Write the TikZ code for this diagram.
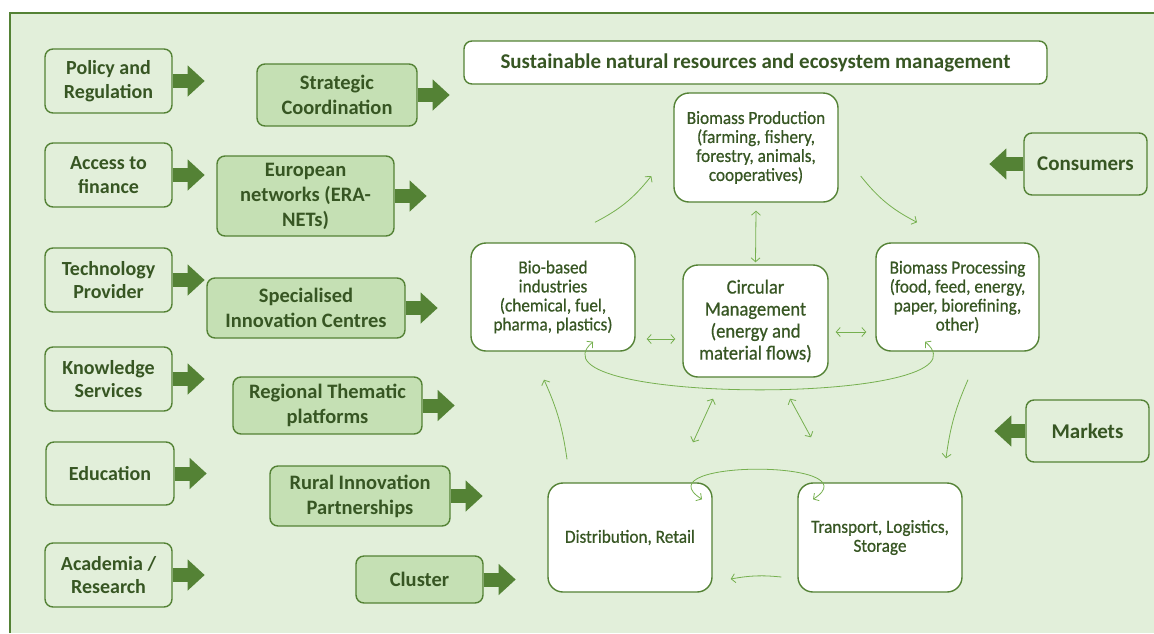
\documentclass[tikz,border=0pt]{standalone}
\usepackage{fontspec}
\setmainfont{Carlito}
\newfontfamily\cycfont[FakeBold=0.6,FakeStretch=0.93]{Carlito}
\usetikzlibrary{calc}
\usetikzlibrary{arrows.meta}
\definecolor{bgGreen}{HTML}{E2EFDA}
\definecolor{lineGreen}{HTML}{548235}
\definecolor{midGreen}{HTML}{C5E0B4}
\definecolor{textGreen}{HTML}{375623}
\definecolor{flowGreen}{HTML}{76B04F}

\begin{document}
\begin{tikzpicture}[x=1pt,y=-1pt,
    >={Straight Barb[length=4pt,width=9pt]},
    actor/.style={draw=lineGreen,line width=1.4pt,rounded corners=8pt,fill=bgGreen,
        text=textGreen,align=center,inner sep=2pt,
        font=\bfseries\fontsize{20}{23.5}\selectfont,
        minimum width=127pt,minimum height=64pt},
    tool/.style={actor,fill=midGreen,font=\bfseries\fontsize{20.5}{25}\selectfont},
    cyc/.style={draw=lineGreen,line width=1.4pt,rounded corners=15pt,fill=white,
        text=textGreen,align=center,inner sep=2pt,
        font=\cycfont\fontsize{18.5}{19}\selectfont,
        minimum width=164pt,minimum height=109pt},
    blk/.style={draw=lineGreen,line width=14pt,-{Triangle[length=17pt,width=30pt]}},
    flow/.style={draw=flowGreen,line width=0.8pt}]
    \useasboundingbox (0,0) rectangle (1154,633);
    % background
    \fill[bgGreen] (10,13) rectangle (1154,633);
    \draw[lineGreen,line width=2pt] (10,633) -- (10,13) -- (1154,13);

    % actors
    \node[actor] (pol) at (108.5,81) {Policy and\\Regulation};
    \node[actor] (acc) at (108.5,175) {Access to\\finance};
    \node[actor] (tec) at (108.5,280) {Technology\\Provider};
    \node[actor] (kno) at (108.5,379) {Knowledge\\Services};
    \node[actor,minimum width=128pt,minimum height=63pt] (edu) at (110,473.5) {Education};
    \node[actor] (aca) at (108.5,575) {Academia /\\Research};

    % instruments
    \node[tool,minimum width=160pt,minimum height=62pt] (str) at (337,95) {Strategic\\Coordination};
    \node[tool,minimum width=177pt,minimum height=80pt] (eur) at (305.5,196) {European\\networks (ERA-\\NETs)};
    \node[tool,minimum width=198pt,minimum height=60pt] (spe) at (306,308) {Specialised\\Innovation Centres};
    \node[tool,minimum width=189pt,minimum height=57pt] (reg) at (327.5,405.5) {Regional Thematic\\platforms};
    \node[tool,minimum width=180pt,minimum height=60pt] (rur) at (360,496) {Rural Innovation\\Partnerships};
    \node[tool,minimum width=127pt,minimum height=47pt] (clu) at (419.5,579.5) {Cluster};

    \foreach \n in {pol,acc,tec,kno,edu,aca,str,eur,spe,reg,rur,clu}
        \draw[blk] (\n.east) -- ++(32,0);

    % right side
    \node[cyc,rounded corners=8pt,minimum width=583pt,minimum height=43pt,
        font=\bfseries\fontsize{21}{24}\selectfont] (sus) at (755.5,62.5)
        {Sustainable natural resources and ecosystem management};
    \node[actor,minimum width=123pt,minimum height=62pt,font=\bfseries\fontsize{21}{25}\selectfont] (con) at (1085.5,164) {Consumers};
    \node[actor,minimum width=123pt,minimum height=62pt,font=\bfseries\fontsize{21}{25}\selectfont] (mar) at (1087.5,431) {Markets};
    \draw[blk] (con.west) -- ++(-34,0);
    \draw[blk] (mar.west) -- ++(-31,0);

    % cycle
    \node[cyc] (prod) at (756,147.5) {Biomass Production\\(farming, fishery,\\forestry, animals,\\cooperatives)};
    \node[cyc,minimum height=108pt] (bio) at (553,297) {Bio-based\\industries\\(chemical, fuel,\\pharma, plastics)};
    \node[cyc,minimum width=145pt,minimum height=112pt,font=\cycfont\fontsize{20}{22}\selectfont] (circ) at (755.5,321) {Circular\\Management\\(energy and\\material flows)};
    \node[cyc,minimum width=163pt,minimum height=108pt] (proc) at (957.5,297) {Biomass Processing\\(food, feed, energy,\\paper, biorefining,\\other)};
    \node[cyc] (dist) at (630,537.5) {Distribution, Retail};
    \node[cyc] (tra) at (880,537.5) {Transport, Logistics,\\Storage};

    \draw[flow,->] ($(bio.north)+(42,-20)$) to[bend right=12] ($(prod.west)+(-22,28.5)$);
    \draw[flow,->] ($(prod.east)+(22,28.5)$) to[bend right=12] ($(proc.north)+(-40.5,-20)$);
    \draw[flow,->] ($(proc.south)+(10.5,28)$) to[bend right=8] ($(tra.north)+(66,-24)$);
    \draw[flow,->] ($(tra.west)+(-16,39.5)$) to[bend right=8] ($(dist.east)+(18,41.5)$);
    \draw[flow,->] ($(dist.north)+(-63,-23)$) to[bend right=8] ($(bio.south)+(-9,28)$);

    \draw[flow,<->] ($(prod.south)+(0,8)$) -- ($(circ.north)+(0,-2)$);
    \draw[flow,<->] ($(bio.east)+(11,42)$) -- ($(circ.west)+(-7,18)$);
    \draw[flow,<->] ($(circ.east)+(7,11)$) -- ($(proc.west)+(-9,35)$);
    \draw[flow,<->] ($(circ.south)+(-42.5,21)$) -- ($(dist.north)+(63,-40)$);
    \draw[flow,<->] ($(circ.south)+(34.5,21)$) -- ($(tra.north)+(-69,-45)$);
    \draw[flow,<->] ($(bio.south)+(40,-10)$) .. controls +(-73,64) and +(75,64) .. ($(proc.south)+(-32.5,-10)$);
    \draw[flow,<->] ($(dist.north)+(72,17)$) .. controls +(-62,-40) and +(62,-40) .. ($(tra.north)+(-67,17)$);
\end{tikzpicture}
\end{document}
